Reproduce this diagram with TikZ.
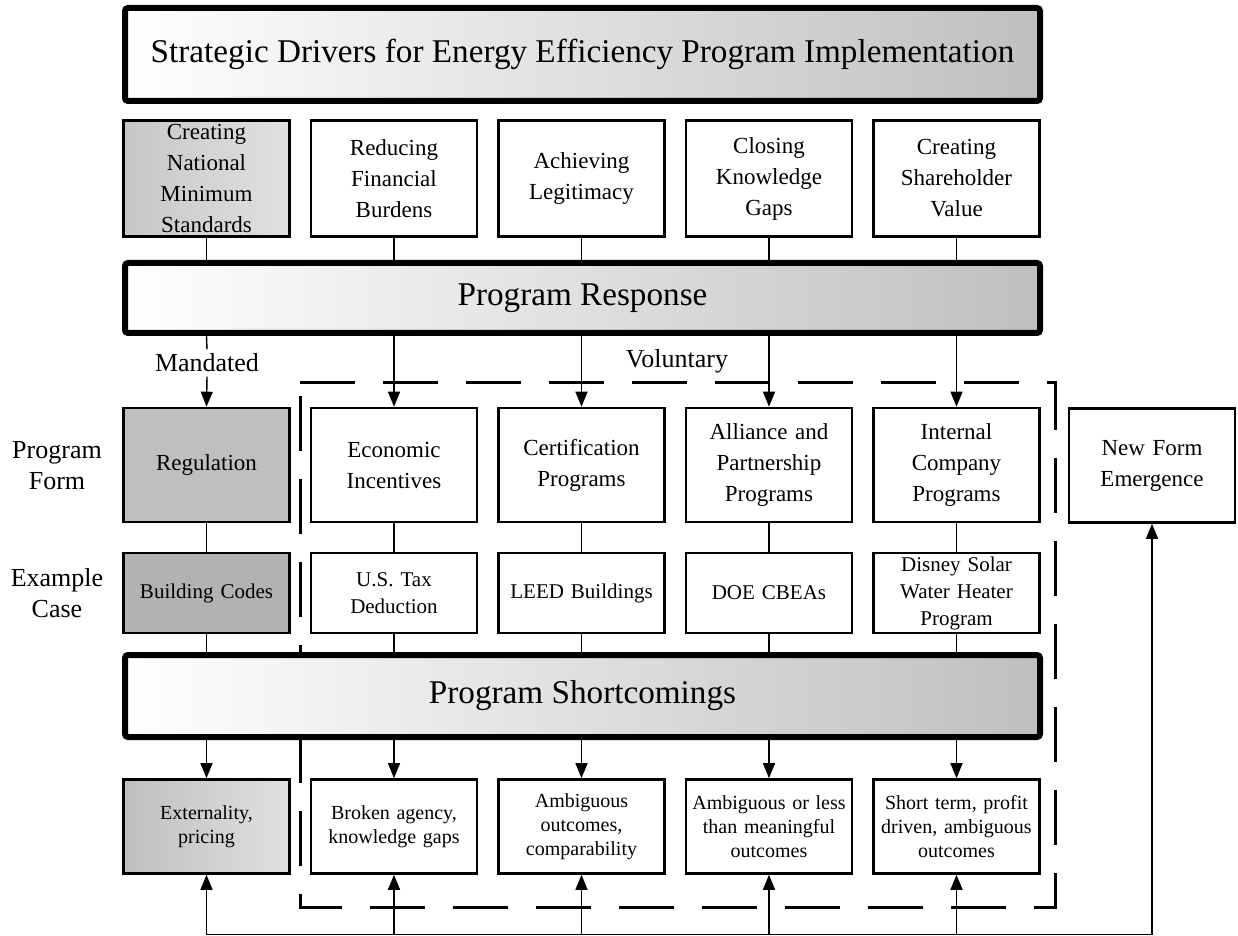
\documentclass[tikz,border=0pt]{standalone}
\usepackage{fontspec}
\setmainfont{Liberation Serif}
\usetikzlibrary{arrows.meta}
\tikzset{
    banner/.style = {draw, line width=3pt, rounded corners=1.5pt, left color=white, right color=black!25,
        minimum width=457.5pt, font=\fontsize{16.6}{19}\selectfont},
    cell/.style = {draw, line width=1.3pt, fill=white, minimum width=83pt, text width=80pt,
        align=center, inner sep=1pt},
    drvtext/.style = {font=\fontsize{11.5}{15.5}\selectfont},
    casetext/.style = {font=\fontsize{10.5}{13.5}\selectfont},
    flawtext/.style = {font=\fontsize{10}{12}\selectfont},
    label/.style = {align=center, inner sep=2pt, font=\fontsize{13}{15.5}\selectfont},
    link/.style = {line width=0.7pt},
    arrow/.style = {line width=0.7pt, -{Triangle[length=7.5pt, width=6pt]}},
    frame/.style = {line width=1.5pt, dash pattern=on 27.5pt off 14pt}
}

\begin{document}
\begin{tikzpicture}[x=0.5pt, y=-0.5pt]
        \useasboundingbox (0, 0) rectangle (1238, 936);
        % dashed frame round the voluntary programs
        \draw[frame] (300, 383) -- (1055, 383) -- (1055, 907) -- (300, 907) -- cycle;
        % banners
        \node[banner, minimum height=46.5pt] (title) at (582.5, 54.5) {Strategic Drivers for Energy Efficiency Program Implementation};
        \node[banner, minimum height=35pt] (response) at (582.5, 298) {Program Response};
        \node[banner, minimum height=41pt] (shortcoming) at (582.5, 696) {Program Shortcomings};
        % strategic drivers
        \node[cell, drvtext, minimum height=58pt, left color=black!22, right color=black!12] (drv1) at (206.5, 178.5) {Creating\\National\\Minimum\\Standards};
        \foreach \i/\x/\txt in {2/394/{Reducing\\Financial\\Burdens}, 3/581.5/{Achieving\\Legitimacy},
                4/769/{Closing\\Knowledge\\Gaps}, 5/956.5/{Creating\\Shareholder\\Value}}{
            \node[cell, drvtext, minimum height=58pt] (drv\i) at (\x, 178.5) {\txt};
        }
        % program forms
        \node[cell, drvtext, minimum height=57pt, fill=black!25] (form1) at (206.5, 465) {Regulation};
        \foreach \i/\x/\txt in {2/394/{Economic\\Incentives}, 3/581.5/{Certification\\Programs},
                4/769/{Alliance and\\Partnership\\Programs}, 5/956.5/{Internal\\Company\\Programs}}{
            \node[cell, drvtext, minimum height=57pt] (form\i) at (\x, 465) {\txt};
        }
        \node[cell, drvtext, minimum height=57pt] (newform) at (1152, 465.5) {New Form\\Emergence};
        % example cases
        \node[cell, casetext, minimum height=40pt, fill=black!30] (case1) at (206.5, 593) {Building Codes};
        \foreach \i/\x/\txt in {2/394/{U.S. Tax\\Deduction}, 3/581.5/{LEED Buildings},
                4/769/{DOE CBEAs}, 5/956.5/{Disney Solar\\Water Heater\\Program}}{
            \node[cell, casetext, minimum height=40pt] (case\i) at (\x, 593) {\txt};
        }
        % shortcomings
        \node[cell, flawtext, minimum height=47pt, left color=black!25, right color=black!12] (flaw1) at (206.5, 826.5) {Externality,\\pricing};
        \foreach \i/\x/\txt in {2/394/{Broken agency,\\knowledge gaps}, 3/581.5/{Ambiguous\\outcomes,\\comparability},
                4/769/{Ambiguous or less\\than meaningful\\outcomes}, 5/956.5/{Short term, profit\\driven, ambiguous\\outcomes}}{
            \node[cell, flawtext, minimum height=47pt] (flaw\i) at (\x, 826.5) {\txt};
        }
        % side and response labels
        \node[label] (formlabel) at (57, 466) {Program\\Form};
        \node[label] (caselabel) at (57, 593) {Example\\Case};
        \node[label] (mandated) at (207, 363) {Mandated};
        \node[label] (voluntary) at (677, 361) {Voluntary};
        % connectors between the rows
        \foreach \i in {1,...,5}{
            \draw[link] (drv\i.south) -- (drv\i.south |- response.north);
            \draw[link] (form\i.south) -- (case\i.north);
            \draw[link] (case\i.south) -- (case\i.south |- shortcoming.north);
            \draw[arrow] (flaw\i.north |- shortcoming.south) -- (flaw\i.north);
        }
        \draw[link] (drv1.south |- response.south) -- (mandated.north);
        \draw[arrow] (mandated.south) -- (form1.north);
        \foreach \i in {2,...,5}{
            \draw[arrow] (form\i.north |- response.south) -- (form\i.north);
        }
        % feedback line along the bottom
        \coordinate (fbleft) at (206.5, 934.5);
        \coordinate (fbright) at (1152, 934.5);
        \draw[link] (fbleft) -- (fbright);
        \foreach \i in {1,...,5}{
            \draw[arrow] (flaw\i.south |- fbleft) -- (flaw\i.south);
        }
        \draw[arrow] (fbright) -- (newform.south);
\end{tikzpicture}
\end{document}
